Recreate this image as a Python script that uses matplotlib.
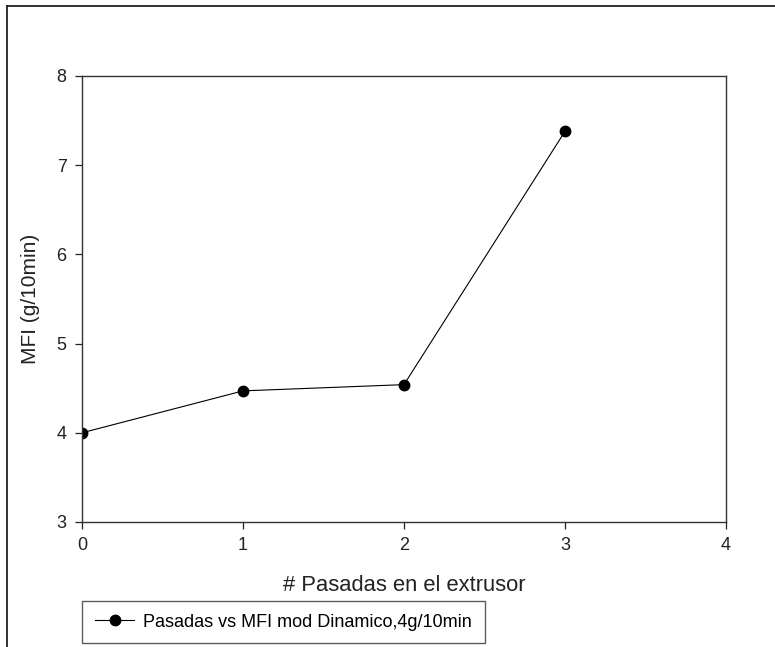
import matplotlib.pyplot as plt
from matplotlib.lines import Line2D

pasadas = [0, 1, 2, 3]
mfi = [4.00, 4.47, 4.54, 7.38]
etiqueta = 'Pasadas vs MFI mod Dinamico,4g/10min'

plt.rcParams['font.family'] = ['Liberation Sans', 'DejaVu Sans']

W, H = 775, 647
fig = plt.figure(figsize=(W / 100, H / 100), dpi=100)
ax = fig.add_axes([82 / W, 1 - 522 / H, (726 - 82) / W, (522 - 76) / H])

ax.plot(pasadas, mfi, color='black', linewidth=0.8, marker='o',
        markersize=7.5, label=etiqueta)

ax.set_xlim(0, 4)
ax.set_ylim(3, 8)
ax.set_xticks([0, 1, 2, 3, 4])
ax.set_yticks([3, 4, 5, 6, 7, 8])
ax.tick_params(direction='out', length=5, width=0.9, labelsize=13,
               colors='#222222', pad=6)
for s in ax.spines.values():
    s.set_linewidth(1.0)
    s.set_color('#333333')

ax.set_xlabel('# Pasadas en el extrusor', fontsize=15.8, color='#222222', labelpad=15)
ax.set_ylabel('MFI (g/10min)', fontsize=15, color='#222222', labelpad=12)

leg = fig.legend(loc='upper left', bbox_to_anchor=(82 / W, 1 - 601 / H),
                 bbox_transform=fig.transFigure, borderaxespad=0,
                 fontsize=13, frameon=True, fancybox=False,
                 borderpad=0.7, handlelength=2.2, handletextpad=0.5)
leg.get_frame().set_edgecolor('#333333')
leg.get_frame().set_linewidth(1.0)

# marco exterior (solo arriba e izquierda visibles)
fig.add_artist(Line2D([7 / W, 1], [1 - 6 / H, 1 - 6 / H], transform=fig.transFigure,
                      color='#222222', linewidth=1.3))
fig.add_artist(Line2D([7 / W, 7 / W], [0, 1 - 6 / H], transform=fig.transFigure,
                      color='#222222', linewidth=1.3))

plt.savefig('out.png', dpi=100)
